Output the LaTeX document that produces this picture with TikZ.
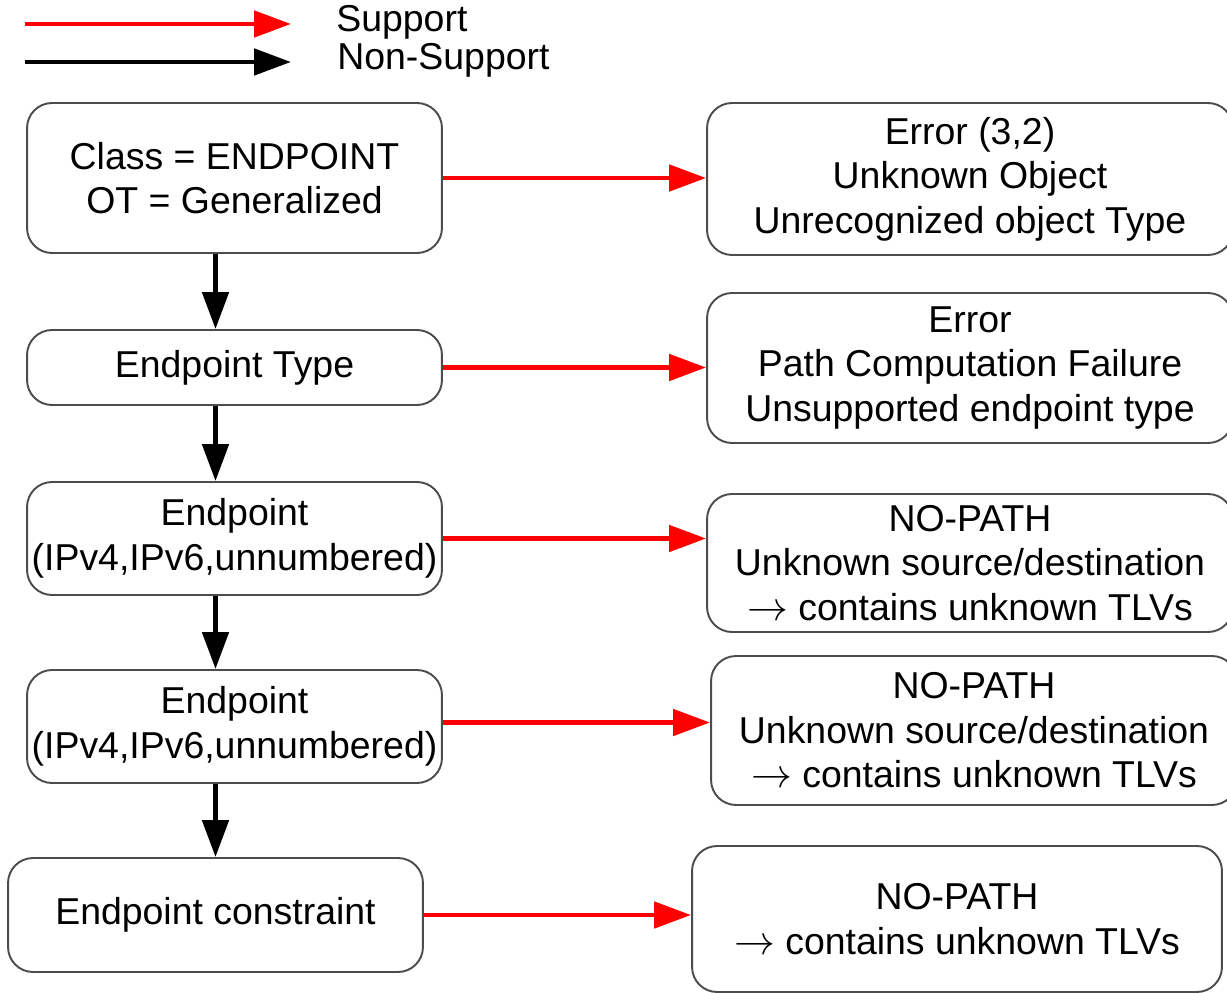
\documentclass[tikz,border=0pt]{standalone}
\usepackage{fontspec}
\setmainfont{Liberation Sans}
\usetikzlibrary{arrows.meta}
\newcommand{\tlvarrow}{\scalebox{1.12}{$\rightarrow$}}

\begin{document}
\begin{tikzpicture}[x=0.02cm, y=-0.02cm,
		box/.style={draw=black!70, line width=1.1pt, rounded corners=0.5cm, align=center, inner sep=0pt, font=\fontsize{21.3}{25.3}\selectfont},
		lbl/.style={inner sep=0pt, anchor=west, font=\fontsize{21.3}{25.3}\selectfont},
		sup/.style={red, line width=2.8pt, -{Triangle[length=0.74cm, width=0.52cm]}},
		nosup/.style={black, line width=2.8pt, -{Triangle[length=0.74cm, width=0.52cm]}}]
			%%%%% START %%%%%
			\useasboundingbox (0, 0) rectangle (1227, 993);
			
			\coordinate (supA) at (25, 24);
			\coordinate (supB) at (291, 24);
			\coordinate (nosA) at (25, 62);
			\coordinate (nosB) at (291, 62);
			\draw[sup] (supA) -- (supB);
			\draw[nosup] (nosA) -- (nosB);
			\node[lbl] (suptxt) at (336, 22) {Support};
			\node[lbl] (nostxt) at (337, 60) {Non-Support};
			
			\node[box, minimum width=8.3cm, minimum height=3cm] (cls) at (234.5, 178) {Class = ENDPOINT\\OT = Generalized};
			\node[box, minimum width=8.3cm, minimum height=1.5cm] (eptype) at (234.5, 367.5) {Endpoint Type};
			\node[box, minimum width=8.3cm, minimum height=2.26cm] (epA) at (234.5, 538.5) {Endpoint\\(IPv4,IPv6,unnumbered)};
			\node[box, minimum width=8.3cm, minimum height=2.26cm] (epB) at (234.5, 726.5) {Endpoint\\(IPv4,IPv6,unnumbered)};
			\node[box, minimum width=8.3cm, minimum height=2.28cm] (epcon) at (215.5, 915) {Endpoint constraint};
			
			\node[box, minimum width=10.52cm, minimum height=3.04cm] (errA) at (970, 179) {Error (3,2)\\Unknown Object\\Unrecognized object Type};
			\node[box, minimum width=10.52cm, minimum height=3cm] (errB) at (970, 368) {Error\\Path Computation Failure\\Unsupported endpoint type};
			\node[box, minimum width=10.52cm, minimum height=2.76cm] (nopA) at (970, 563) {NO-PATH\\Unknown source/destination\\\tlvarrow{} contains unknown TLVs};
			\node[box, minimum width=10.52cm, minimum height=2.98cm] (nopB) at (974, 730.5) {NO-PATH\\Unknown source/destination\\\tlvarrow{} contains unknown TLVs};
			\node[box, minimum width=10.6cm, minimum height=2.92cm] (nopC) at (957, 919) {NO-PATH\\\tlvarrow{} contains unknown TLVs};
			
			\draw[nosup] (cls.south -| epcon) -- (eptype.north -| epcon);
			\draw[nosup] (eptype.south -| epcon) -- (epA.north -| epcon);
			\draw[nosup] (epA.south -| epcon) -- (epB.north -| epcon);
			\draw[nosup] (epB.south -| epcon) -- (epcon.north);
			
			\coordinate (epBout) at ([yshift=0.08cm]epB.east);
			\draw[sup] (cls.east) -- (errA.west |- cls.east);
			\draw[sup] (eptype.east) -- (errB.west |- eptype.east);
			\draw[sup] (epA.east) -- (nopA.west |- epA.east);
			\draw[sup] (epBout) -- (nopB.west |- epBout);
			\draw[sup] (epcon.east) -- (nopC.west |- epcon.east);
			%%%%% END %%%%%
		\end{tikzpicture}
\end{document}
